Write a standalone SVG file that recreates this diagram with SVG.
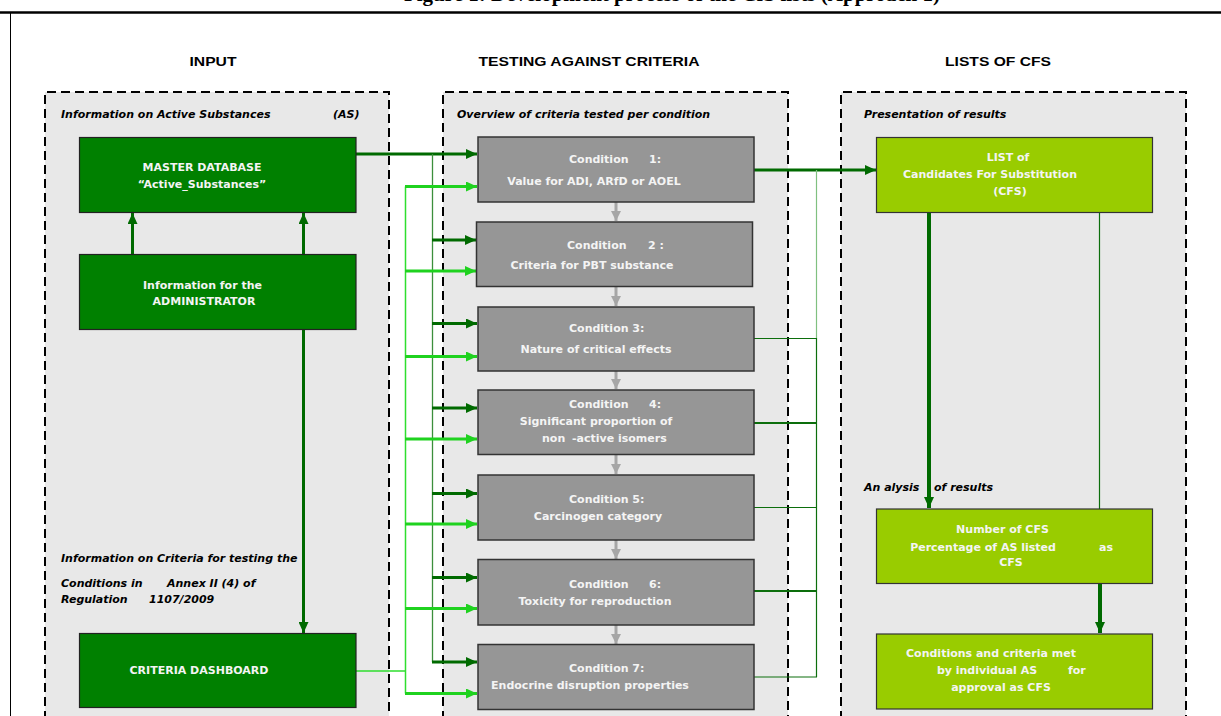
<svg xmlns="http://www.w3.org/2000/svg" width="1221" height="716" viewBox="0 0 1221 716">
  <style>
    .title { font-family: "Liberation Serif", serif; font-weight: bold; font-size: 21px; fill: #000; }
    .hdr { font-family: "Liberation Sans", Arial, sans-serif; font-weight: bold; font-size: 12px; fill: #000; }
    .sub { font-family: "DejaVu Sans", Verdana, sans-serif; font-weight: bold; font-style: italic; font-size: 11px; fill: #000; }
    .panel { fill: #e8e8e8; stroke: #000; stroke-width: 2; stroke-dasharray: 9 5; }
    .dk { fill: #008000; stroke: #222; stroke-width: 1.2; }
    .gy { fill: #969696; stroke: #333; stroke-width: 1.5; }
    .yg { fill: #99cc00; stroke: #333; stroke-width: 1.2; }
    .bt { font-family: "DejaVu Sans", Verdana, sans-serif; font-weight: bold; font-size: 11px; fill: #f4f4f4; }
    .mid { text-anchor: middle; }
    .dkline { stroke: #006a00; stroke-width: 3; fill: none; }
    .brline { stroke: #1fd21f; stroke-width: 3; fill: none; }
    .gyline { stroke: #a6a6a6; stroke-width: 3; fill: none; }
    .bus-dk { stroke: #3c8f3c; stroke-width: 1.3; fill: none; }
    .bus-br { stroke: #2ede2e; stroke-width: 1.5; fill: none; }
    .out-thin { stroke: #0c6e0c; stroke-width: 1.2; fill: none; }
    .out-thick { stroke: #0c6e0c; stroke-width: 2.2; fill: none; }
  </style>
  <defs>
    <marker id="aDk" markerUnits="userSpaceOnUse" markerWidth="12" markerHeight="10" refX="11" refY="5" orient="auto">
      <path d="M0,0 L11,5 L0,10 z" fill="#006a00"/>
    </marker>
    <marker id="aBr" markerUnits="userSpaceOnUse" markerWidth="12" markerHeight="10" refX="11" refY="5" orient="auto">
      <path d="M0,0 L11,5 L0,10 z" fill="#1fd21f"/>
    </marker>
    <marker id="aGy" markerUnits="userSpaceOnUse" markerWidth="12" markerHeight="10" refX="10" refY="5" orient="auto">
      <path d="M0,0 L10,5 L0,10 z" fill="#a6a6a6"/>
    </marker>
  </defs>

  <rect width="1221" height="716" fill="#fff"/>

  <!-- page heading, running off the top edge, and frame -->
  <text class="title" x="940" y="1" text-anchor="end">Figure 1: Development process of the CfS lists (Approach 1)</text>
  <line x1="0" y1="12.5" x2="1221" y2="12.5" stroke="#000" stroke-width="2.5"/>
  <line x1="10.5" y1="12" x2="10.5" y2="716" stroke="#000" stroke-width="1"/>

  <!-- column headings -->
  <text class="hdr" x="213" y="66" text-anchor="middle" textLength="47" lengthAdjust="spacingAndGlyphs">INPUT</text>
  <text class="hdr" x="589" y="66" text-anchor="middle" textLength="221" lengthAdjust="spacingAndGlyphs">TESTING AGAINST CRITERIA</text>
  <text class="hdr" x="998" y="66" text-anchor="middle" textLength="106" lengthAdjust="spacingAndGlyphs">LISTS OF CFS</text>

  <!-- dashed panels -->
  <g id="panel-input">
    <path class="panel" d="M45,720 L45,92 L389,92 L389,720"/>
    <text class="sub" x="61" y="118">Information on Active Substances</text>
    <text class="sub" x="333" y="118">(AS)</text>
    <text class="sub" x="61" y="562">Information on Criteria for testing the</text>
    <text class="sub" x="61" y="587">Conditions in</text>
    <text class="sub" x="167" y="587">Annex II  (4) of</text>
    <text class="sub" x="61" y="603">Regulation</text>
    <text class="sub" x="149" y="603">1107/2009</text>
  </g>
  <g id="panel-testing">
    <path class="panel" d="M443,720 L443,92 L788,92 L788,720"/>
    <text class="sub" x="457" y="118">Overview of criteria tested per condition</text>
  </g>
  <g id="panel-lists">
    <path class="panel" d="M841,720 L841,92 L1186,92 L1186,720"/>
    <text class="sub" x="864" y="118">Presentation of results</text>
    <text class="sub" x="864" y="491">An alysis</text>
    <text class="sub" x="934" y="491">of results</text>
  </g>

  <!-- connectors -->
  <g id="connectors">
    <!-- input side -->
    <line class="dkline" x1="132.5" y1="254" x2="132.5" y2="213" marker-end="url(#aDk)"/>
    <line class="dkline" x1="303.5" y1="254" x2="303.5" y2="213" marker-end="url(#aDk)"/>
    <line class="dkline" x1="303.5" y1="330" x2="303.5" y2="633" marker-end="url(#aDk)"/>

    <!-- master database feed and its bus -->
    <line class="dkline" x1="356" y1="154" x2="477" y2="154" marker-end="url(#aDk)"/>
    <line class="bus-dk" x1="432.5" y1="154" x2="432.5" y2="662"/>
    <line class="dkline" x1="432" y1="240" x2="476" y2="240" marker-end="url(#aDk)"/>
    <line class="dkline" x1="432" y1="323.5" x2="477" y2="323.5" marker-end="url(#aDk)"/>
    <line class="dkline" x1="432" y1="408" x2="477" y2="408" marker-end="url(#aDk)"/>
    <line class="dkline" x1="432" y1="493.5" x2="477" y2="493.5" marker-end="url(#aDk)"/>
    <line class="dkline" x1="432" y1="577.5" x2="477" y2="577.5" marker-end="url(#aDk)"/>
    <line class="dkline" x1="432" y1="662" x2="477" y2="662" marker-end="url(#aDk)"/>

    <!-- criteria dashboard feed and its bus -->
    <line class="bus-br" x1="356" y1="671" x2="405" y2="671"/>
    <line class="bus-br" x1="405.5" y1="186.5" x2="405.5" y2="693.5"/>
    <line class="brline" x1="405" y1="186.5" x2="477" y2="186.5" marker-end="url(#aBr)"/>
    <line class="brline" x1="405" y1="271" x2="476" y2="271" marker-end="url(#aBr)"/>
    <line class="brline" x1="405" y1="356.5" x2="477" y2="356.5" marker-end="url(#aBr)"/>
    <line class="brline" x1="405" y1="439" x2="477" y2="439" marker-end="url(#aBr)"/>
    <line class="brline" x1="405" y1="524" x2="477" y2="524" marker-end="url(#aBr)"/>
    <line class="brline" x1="405" y1="608.5" x2="477" y2="608.5" marker-end="url(#aBr)"/>
    <line class="brline" x1="405" y1="693.5" x2="477" y2="693.5" marker-end="url(#aBr)"/>

    <!-- sequence between conditions -->
    <line class="gyline" x1="616" y1="202" x2="616" y2="221" marker-end="url(#aGy)"/>
    <line class="gyline" x1="616" y1="287" x2="616" y2="306" marker-end="url(#aGy)"/>
    <line class="gyline" x1="616" y1="371" x2="616" y2="389" marker-end="url(#aGy)"/>
    <line class="gyline" x1="616" y1="455" x2="616" y2="474" marker-end="url(#aGy)"/>
    <line class="gyline" x1="616" y1="540" x2="616" y2="559" marker-end="url(#aGy)"/>
    <line class="gyline" x1="616" y1="625" x2="616" y2="644" marker-end="url(#aGy)"/>

    <!-- results collection -->
    <line class="dkline" x1="754" y1="170" x2="876" y2="170" marker-end="url(#aDk)"/>
    <line x1="816.5" y1="170" x2="816.5" y2="338" stroke="#80c080" stroke-width="1.2"/>
    <line class="out-thin" x1="816.5" y1="338" x2="816.5" y2="677"/>
    <line class="out-thin" x1="754" y1="338.5" x2="817" y2="338.5"/>
    <line class="out-thick" x1="754" y1="423" x2="817" y2="423"/>
    <line class="out-thin" x1="754" y1="507.5" x2="817" y2="507.5"/>
    <line class="out-thick" x1="754" y1="591" x2="817" y2="591"/>
    <line class="out-thin" x1="754" y1="677" x2="817" y2="677"/>

    <!-- list of CFS to analysis -->
    <line stroke="#006a00" stroke-width="4" x1="929" y1="212" x2="929" y2="508" marker-end="url(#aDk)"/>
    <line class="out-thin" x1="1099.5" y1="212" x2="1099.5" y2="509"/>
    <line stroke="#006a00" stroke-width="4" x1="1100" y1="584" x2="1100" y2="633" marker-end="url(#aDk)"/>
  </g>

  <!-- input nodes -->
  <g id="master-database">
    <rect class="dk" x="79.5" y="137.5" width="276.5" height="75"/>
    <text class="bt mid" x="202" y="171">MASTER DATABASE</text>
    <text class="bt mid" x="202" y="188">“Active_Substances”</text>
  </g>
  <g id="administrator">
    <rect class="dk" x="79.5" y="254.5" width="276.5" height="75"/>
    <text class="bt mid" x="202.5" y="289">Information  for the</text>
    <text class="bt mid" x="204" y="305">ADMINISTRATOR</text>
  </g>
  <g id="criteria-dashboard">
    <rect class="dk" x="79.5" y="633.5" width="276.5" height="74"/>
    <text class="bt mid" x="199" y="674">CRITERIA DASHBOARD</text>
  </g>

  <!-- condition nodes -->
  <g id="condition-1">
    <rect class="gy" x="478" y="137" width="276" height="65"/>
    <text class="bt" x="569" y="163">Condition</text>
    <text class="bt" x="649" y="163">1:</text>
    <text class="bt mid" x="594" y="185">Value for ADI, ARfD or AOEL</text>
  </g>
  <g id="condition-2">
    <rect class="gy" x="476.5" y="222" width="276" height="64.5"/>
    <text class="bt" x="567" y="249">Condition</text>
    <text class="bt" x="648" y="249">2 :</text>
    <text class="bt mid" x="592" y="269">Criteria for PBT substance</text>
  </g>
  <g id="condition-3">
    <rect class="gy" x="478" y="307" width="276" height="64"/>
    <text class="bt" x="569" y="332">Condition 3:</text>
    <text class="bt mid" x="596" y="353">Nature of critical effects</text>
  </g>
  <g id="condition-4">
    <rect class="gy" x="478" y="390" width="276" height="64.5"/>
    <text class="bt" x="569" y="408">Condition</text>
    <text class="bt" x="649" y="408">4:</text>
    <text class="bt mid" x="596" y="425">Significant proportion of</text>
    <text class="bt" x="542" y="441.5">non</text>
    <text class="bt" x="572" y="441.5">-active isomers</text>
  </g>
  <g id="condition-5">
    <rect class="gy" x="478" y="475" width="276" height="65"/>
    <text class="bt" x="569" y="502.5">Condition 5:</text>
    <text class="bt mid" x="598" y="519.5">Carcinogen category</text>
  </g>
  <g id="condition-6">
    <rect class="gy" x="478" y="559.5" width="276" height="65.5"/>
    <text class="bt" x="569" y="587.5">Condition</text>
    <text class="bt" x="649" y="587.5">6:</text>
    <text class="bt mid" x="595" y="604.5">Toxicity for reproduction</text>
  </g>
  <g id="condition-7">
    <rect class="gy" x="478" y="644.5" width="276" height="65"/>
    <text class="bt" x="569" y="671.5">Condition 7:</text>
    <text class="bt mid" x="590" y="688.5">Endocrine disruption properties</text>
  </g>

  <!-- result nodes -->
  <g id="list-of-cfs">
    <rect class="yg" x="876.5" y="137.5" width="276" height="75"/>
    <text class="bt mid" x="1008" y="161">LIST of</text>
    <text class="bt mid" x="990" y="178">Candidates For Substitution</text>
    <text class="bt mid" x="1010" y="195">(CFS)</text>
  </g>
  <g id="number-of-cfs">
    <rect class="yg" x="876.5" y="509" width="276" height="74.5"/>
    <text class="bt mid" x="1002.5" y="533">Number of CFS</text>
    <text class="bt mid" x="983" y="550.5">Percentage of AS listed</text>
    <text class="bt" x="1099" y="550.5">as</text>
    <text class="bt mid" x="1011" y="566">CFS</text>
  </g>
  <g id="conditions-met">
    <rect class="yg" x="876.5" y="634" width="276" height="75"/>
    <text class="bt mid" x="991" y="657">Conditions  and criteria met</text>
    <text class="bt mid" x="987" y="673.5">by individual  AS</text>
    <text class="bt" x="1068" y="673.5">for</text>
    <text class="bt mid" x="1001" y="690.5">approval as CFS</text>
  </g>
</svg>
